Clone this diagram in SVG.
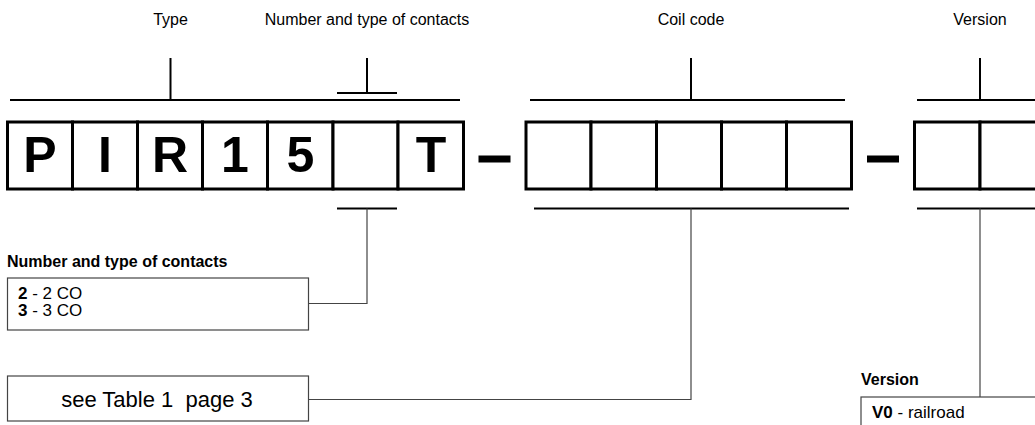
<svg xmlns="http://www.w3.org/2000/svg" width="1035" height="425" viewBox="0 0 1035 425">
<style>
  text { font-family: "Liberation Sans", Arial, sans-serif; fill: #000; }
  .lbl { font-size: 16px; text-anchor: middle; }
  .ttl { font-size: 16px; font-weight: bold; }
  .item { font-size: 17px; }
  .big { font-size: 50px; font-weight: bold; text-anchor: middle; }
  .cell { fill: #fff; stroke: #000; stroke-width: 3; }
  .bar { stroke: #000; stroke-width: 2; fill: none; }
  .thin { stroke: #444; stroke-width: 1.2; fill: none; }
  .lbox { fill: #fff; stroke: #444; stroke-width: 1.2; }
</style>
<rect width="1035" height="425" fill="#fff"/>

<g id="labels">
  <text class="lbl" x="170.5" y="25">Type</text>
  <text class="lbl" x="367" y="25">Number and type of contacts</text>
  <text class="lbl" x="691" y="25">Coil code</text>
  <text class="lbl" x="980" y="25">Version</text>
</g>

<g id="brackets">
  <line class="bar" x1="170.5" y1="58" x2="170.5" y2="100"/>
  <line class="bar" x1="10" y1="100" x2="460" y2="100"/>
  <line class="bar" x1="367" y1="58" x2="367" y2="93"/>
  <line class="bar" x1="337" y1="93" x2="397" y2="93"/>
  <line class="bar" x1="691" y1="58" x2="691" y2="100"/>
  <line class="bar" x1="530" y1="100" x2="845" y2="100"/>
  <line class="bar" x1="980" y1="58" x2="980" y2="100"/>
  <line class="bar" x1="917" y1="100" x2="1040" y2="100"/>
  <line class="bar" x1="337" y1="208.5" x2="397" y2="208.5"/>
  <line class="bar" x1="534" y1="208.5" x2="849" y2="208.5"/>
  <line class="bar" x1="917" y1="208.5" x2="1040" y2="208.5"/>
</g>

<g id="code-type">
  <rect class="cell" x="7.5" y="122" width="65" height="67"/>
  <rect class="cell" x="72.5" y="122" width="65" height="67"/>
  <rect class="cell" x="137.5" y="122" width="65" height="67"/>
  <rect class="cell" x="202.5" y="122" width="65" height="67"/>
  <rect class="cell" x="267.5" y="122" width="65.5" height="67"/>
  <rect class="cell" x="333" y="122" width="65" height="67"/>
  <rect class="cell" x="398" y="122" width="65.5" height="67"/>
  <text class="big" x="40" y="172">P</text>
  <text class="big" x="105" y="172">I</text>
  <text class="big" x="170" y="172">R</text>
  <text class="big" x="235" y="172">1</text>
  <text class="big" x="300.5" y="172">5</text>
  <text class="big" x="431" y="172">T</text>
</g>

<g id="separators">
  <rect x="478.5" y="155.5" width="32" height="7" fill="#000"/>
  <rect x="867" y="155.5" width="32" height="7" fill="#000"/>
</g>

<g id="code-coil">
  <rect class="cell" x="526" y="122" width="65" height="67"/>
  <rect class="cell" x="591" y="122" width="65.5" height="67"/>
  <rect class="cell" x="656.5" y="122" width="65" height="67"/>
  <rect class="cell" x="721.5" y="122" width="65" height="67"/>
  <rect class="cell" x="786.5" y="122" width="65" height="67"/>
</g>

<g id="code-version">
  <rect class="cell" x="914.5" y="122" width="65.5" height="67"/>
  <rect class="cell" x="980" y="122" width="65.5" height="67"/>
</g>

<g id="connectors">
  <polyline class="thin" points="367,208.5 367,303.5 308.5,303.5"/>
  <polyline class="thin" points="691,208.5 691,399.5 308.5,399.5"/>
  <line class="thin" x1="980" y1="208.5" x2="980" y2="397"/>
</g>

<g id="legend-contacts">
  <text class="ttl" x="7" y="267">Number and type of contacts</text>
  <rect class="lbox" x="7.5" y="278" width="301" height="52"/>
  <text class="item" x="18" y="298.5"><tspan font-weight="bold">2</tspan> - 2 CO</text>
  <text class="item" x="18" y="316"><tspan font-weight="bold">3</tspan> - 3 CO</text>
</g>

<g id="legend-coil">
  <rect class="lbox" x="7.5" y="376" width="301" height="45"/>
  <text x="157" y="406.5" font-size="22" text-anchor="middle" xml:space="preserve">see Table 1  page 3</text>
</g>

<g id="legend-version">
  <text class="ttl" x="861" y="385">Version</text>
  <rect class="lbox" x="861" y="397" width="200" height="50"/>
  <text class="item" x="872" y="417.5"><tspan font-weight="bold">V0</tspan> - railroad</text>
</g>
</svg>
